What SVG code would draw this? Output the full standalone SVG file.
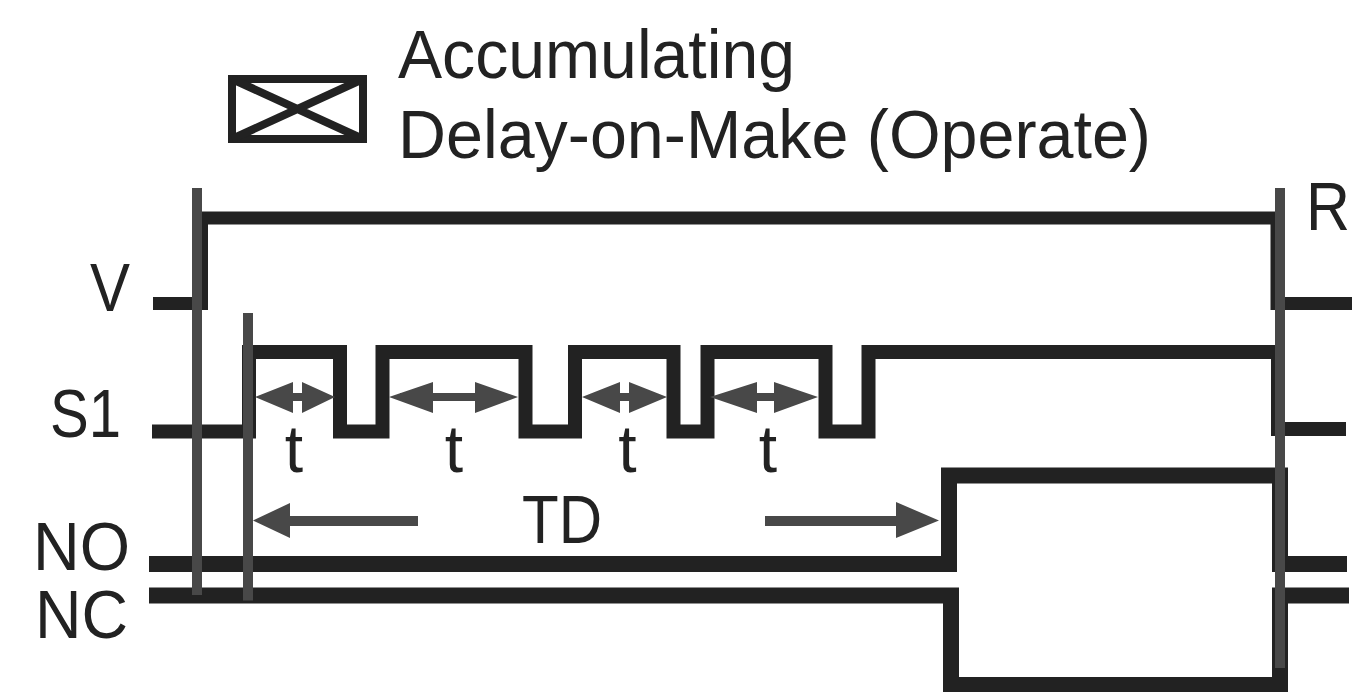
<svg xmlns="http://www.w3.org/2000/svg" width="1369" height="692" viewBox="0 0 1369 692">
<style>
text{font-family:"Liberation Sans",Arial,sans-serif;fill:#222;font-size:68px}
.w{fill:none;stroke:#222;stroke-linejoin:miter}
.s13{stroke-width:13}
.s14{stroke-width:14}
.s16{stroke-width:16}
.m{fill:none;stroke:#484848;stroke-width:10}
.a{fill:none;stroke:#484848;stroke-width:8}
.b{fill:none;stroke:#484848;stroke-width:10}
.h{fill:#484848}
.c{font-size:66px;text-anchor:middle}
</style>
<rect width="1369" height="692" fill="#fff"/>
<g id="legend">
<rect x="232" y="79" width="131" height="60" fill="none" stroke="#222" stroke-width="8"/>
<path d="M232 79L363 139M363 79L232 139" fill="none" stroke="#222" stroke-width="8"/>
<text x="398" y="78" textLength="397" lengthAdjust="spacingAndGlyphs">Accumulating</text>
<text x="398" y="157.500" textLength="753" lengthAdjust="spacingAndGlyphs">Delay-on-Make (Operate)</text>
</g>
<g id="labels">
<text x="90" y="311" textLength="40" lengthAdjust="spacingAndGlyphs">V</text>
<text x="50" y="437" textLength="71" lengthAdjust="spacingAndGlyphs">S1</text>
<text x="33" y="570" textLength="97" lengthAdjust="spacingAndGlyphs">NO</text>
<text x="35" y="638" textLength="93" lengthAdjust="spacingAndGlyphs">NC</text>
<text x="1306" y="230" textLength="44" lengthAdjust="spacingAndGlyphs">R</text>
<text class="c" x="294" y="472">t</text>
<text class="c" x="454" y="472">t</text>
<text class="c" x="627.500" y="472">t</text>
<text class="c" x="768" y="472">t</text>
<text x="522" y="543" textLength="80" lengthAdjust="spacingAndGlyphs">TD</text>
</g>
<g id="connectors">
<path class="w s13" d="M153 303.500H201.500V218H1277V303.500H1352"/>
<path class="w s14" d="M152 431.500H249V352H340V431.500H382.500V352H525.500V431.500H575V352H673.500V431.500H707.500V352H825.500V431.500H868.500V352H1278V429H1346"/>
<path class="w s16" d="M149 564H949V475.500H1280V564H1347"/>
<path class="w s16" d="M149 595.500H951V685H1280V595.500H1349"/>
<path class="m" d="M197 188V595M248 313V600.500M1280 188V668"/>
<g id="arrows">
<path class="a" d="M270 397H320M400 397H505M595 397H655M725 397H805"/>
<path class="h" d="M255 397L293 382V413ZM335 397L302 382V413ZM389 397L433 382V413ZM518 397L475 382V413ZM582 397L620 382V413ZM667 397L629 382V413ZM710 397L757 382V413ZM818 397L774 382V413Z"/>
<path class="b" d="M280 521H418M765 521H910"/>
<path class="h" d="M253 520.500L290 503V538ZM939 520.500L896 502V538Z"/>
</g>
</g>
</svg>
